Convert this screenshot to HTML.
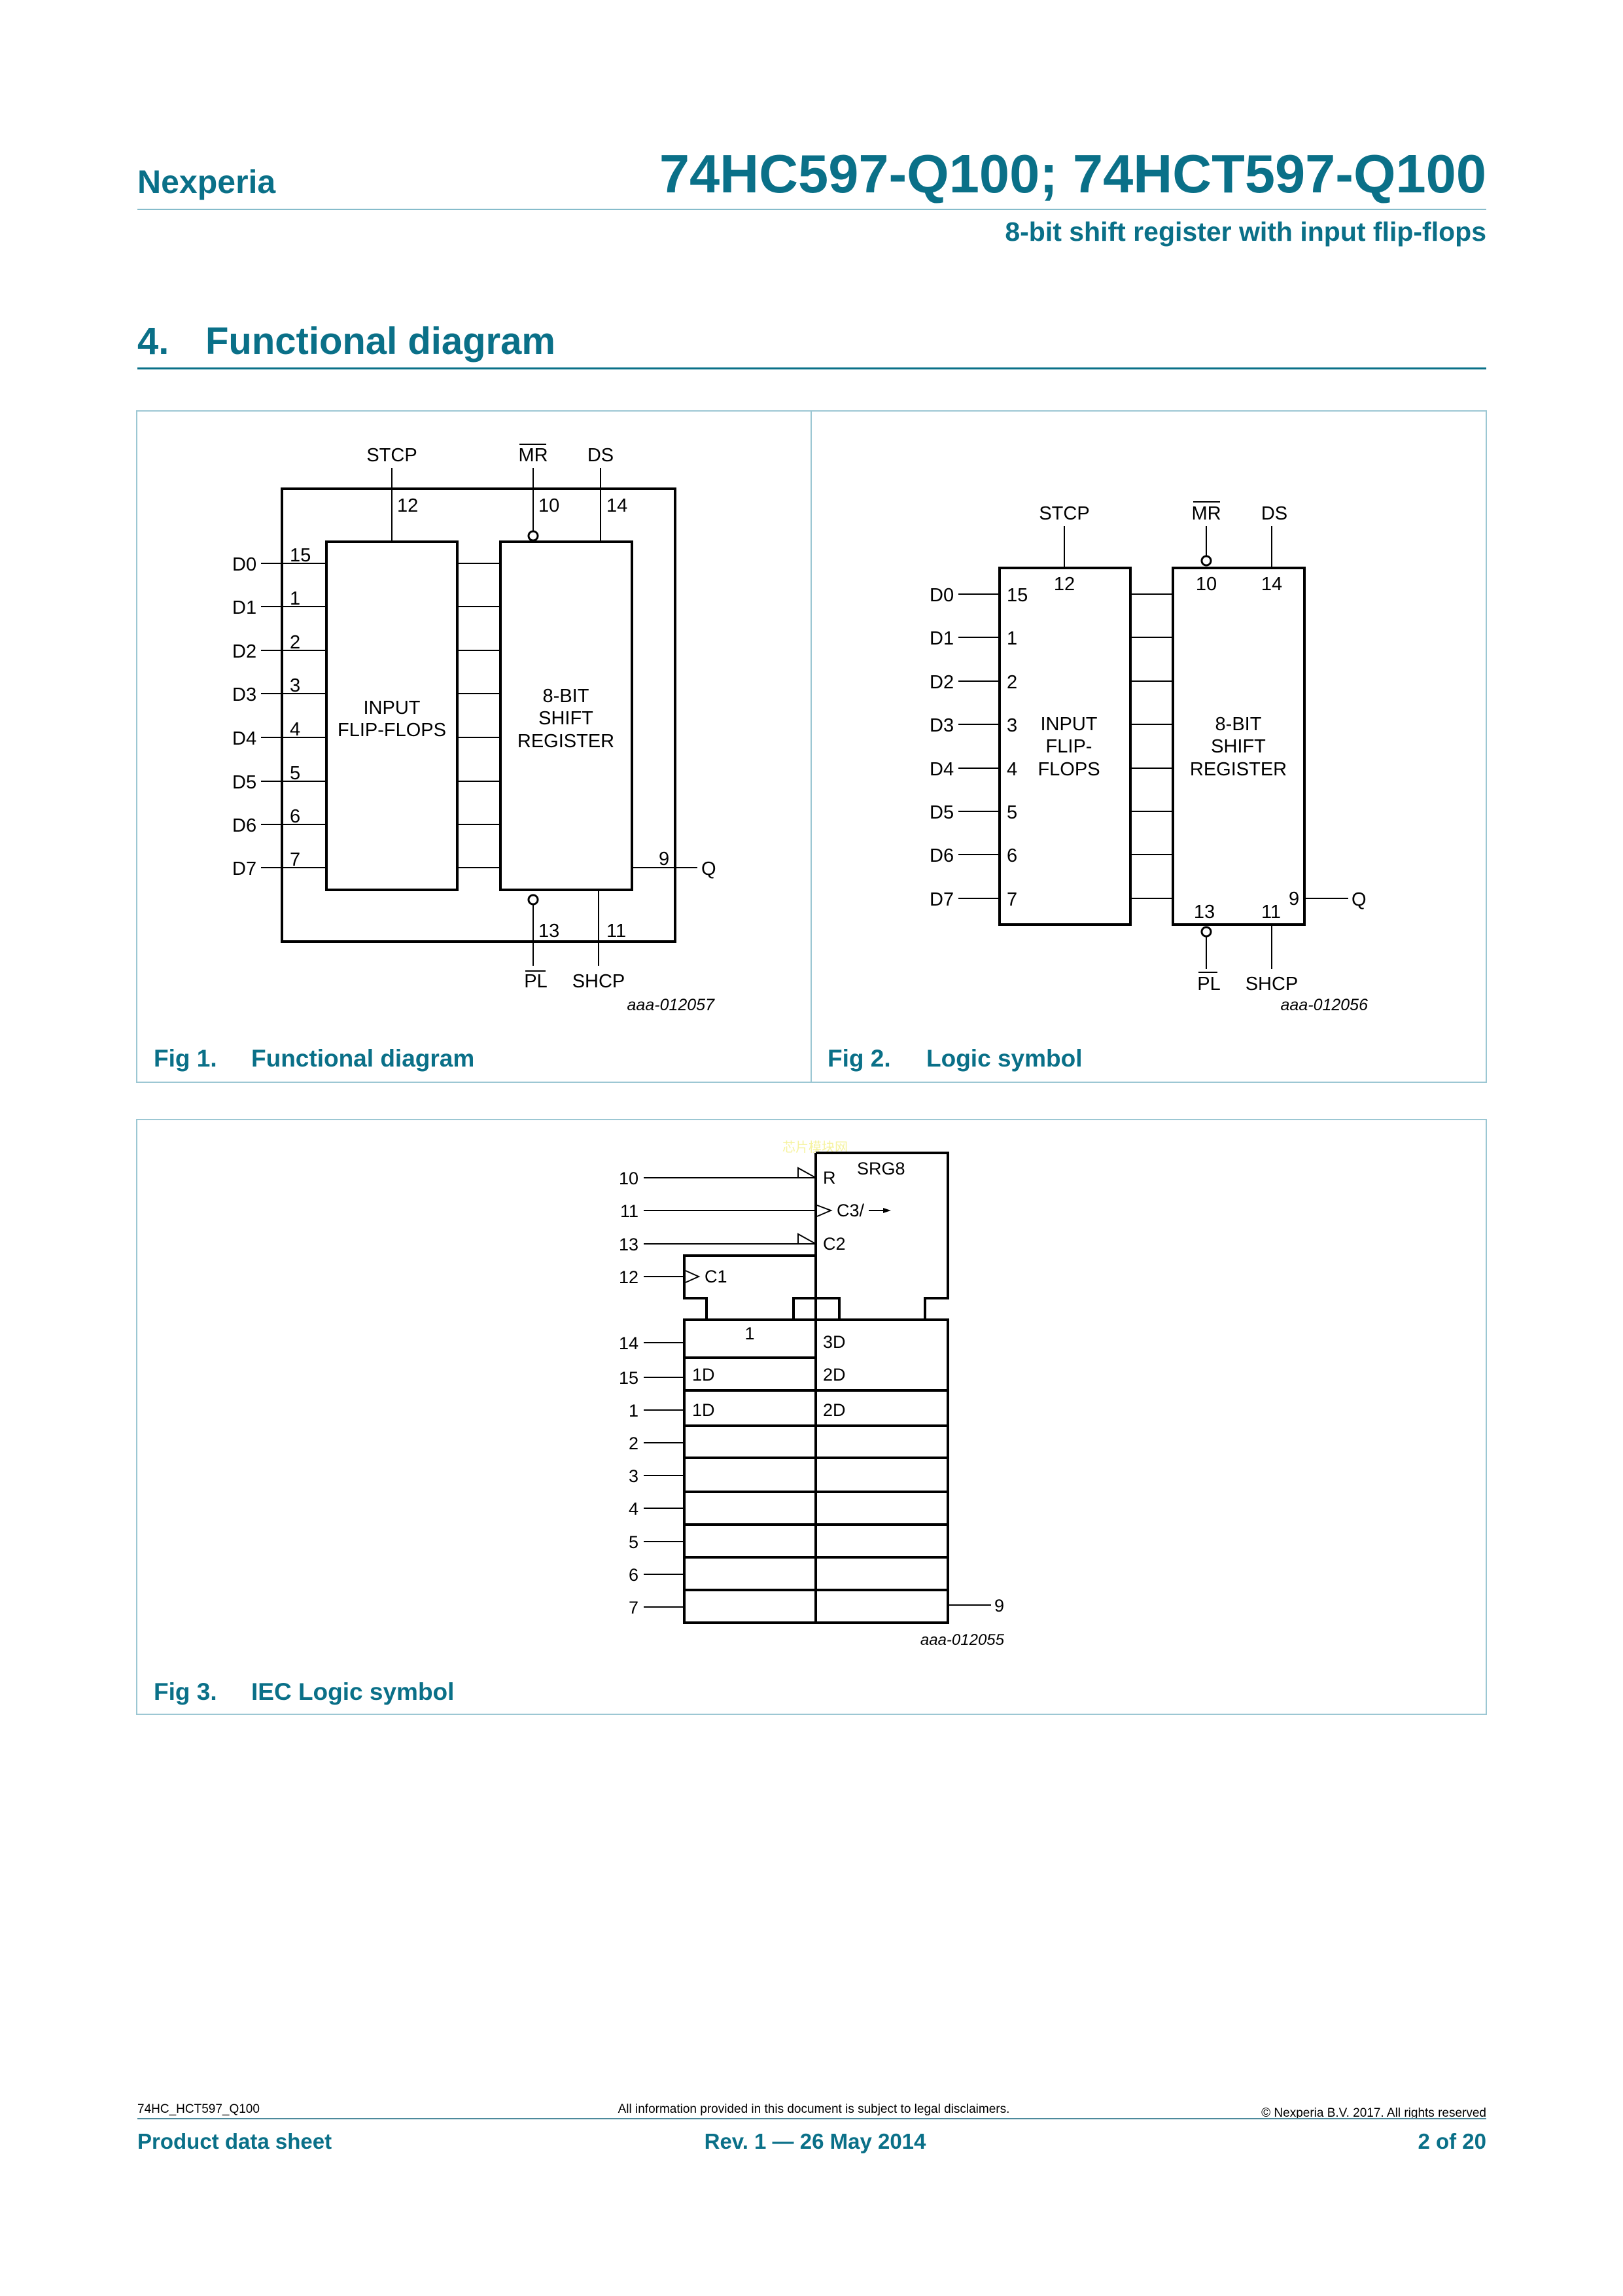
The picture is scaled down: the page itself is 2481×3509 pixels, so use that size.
<!DOCTYPE html>
<html><head><meta charset="utf-8"><style>
html,body{margin:0;padding:0;background:#fff}
svg{display:block}
text{font-family:"Liberation Sans",Arial,sans-serif}
</style></head><body>
<svg width="2481" height="3509" viewBox="0 0 2481 3509" xmlns="http://www.w3.org/2000/svg">
<rect width="2481" height="3509" fill="#fff"/>
<!-- Header -->
<g fill="#0a7088" font-weight="bold">
<text x="210" y="295" font-size="50">Nexperia</text>
<text x="2272" y="294" font-size="83" text-anchor="end">74HC597-Q100; 74HCT597-Q100</text>
<text x="2272" y="368" font-size="41" text-anchor="end">8-bit shift register with input flip-flops</text>
<text x="210" y="541" font-size="58">4.</text>
<text x="314" y="541" font-size="58">Functional diagram</text>
</g>
<line x1="210" y1="320" x2="2272" y2="320" stroke="#86bccb" stroke-width="2"/>
<line x1="210" y1="563" x2="2272" y2="563" stroke="#0a7088" stroke-width="3"/>

<!-- Panels -->
<g fill="none" stroke="#9cc7d3" stroke-width="2">
<rect x="209" y="628" width="2063" height="1026"/>
<line x1="1240" y1="628" x2="1240" y2="1654"/>
<rect x="209" y="1711" width="2063" height="909"/>
</g>
<g fill="#0a7088" font-weight="bold" font-size="37">
<text x="235" y="1630">Fig 1.</text><text x="384" y="1630">Functional diagram</text>
<text x="1265" y="1630">Fig 2.</text><text x="1416" y="1630">Logic symbol</text>
<text x="235" y="2598">Fig 3.</text><text x="384" y="2598">IEC Logic symbol</text>
</g>

<!-- FIG 1 -->
<g stroke="#000" fill="none">
<rect x="431" y="747" width="601" height="692" stroke-width="4"/>
<rect x="499" y="828" width="200" height="532" stroke-width="4"/>
<rect x="765" y="828" width="201" height="532" stroke-width="4"/>
<g stroke-width="2">
<path d="M399 861H499M399 927H499M399 994H499M399 1060H499M399 1127H499M399 1194H499M399 1260H499M399 1326H499"/>
<path d="M699 861H765M699 927H765M699 994H765M699 1060H765M699 1127H765M699 1194H765M699 1260H765M699 1326H765"/>
<path d="M599 715V828M815 715V812M918 715V828M815 1382V1476M915 1360V1476M966 1326H1066"/>
<path d="M794 679H835M803 1484H834"/>
</g>
<circle cx="815" cy="819" r="7" stroke-width="3" fill="#fff"/>
<circle cx="815" cy="1375" r="7" stroke-width="3" fill="#fff"/>
</g>
<g font-size="29" fill="#000">
<text x="355" y="872">D0</text><text x="355" y="938">D1</text><text x="355" y="1005">D2</text><text x="355" y="1071">D3</text>
<text x="355" y="1138">D4</text><text x="355" y="1205">D5</text><text x="355" y="1271">D6</text><text x="355" y="1337">D7</text>
<text x="443" y="858">15</text><text x="443" y="924">1</text><text x="443" y="991">2</text><text x="443" y="1057">3</text>
<text x="443" y="1124">4</text><text x="443" y="1191">5</text><text x="443" y="1257">6</text><text x="443" y="1323">7</text>
<text x="599" y="1091" text-anchor="middle">INPUT</text>
<text x="599" y="1125" text-anchor="middle">FLIP-FLOPS</text>
<text x="865" y="1073" text-anchor="middle">8-BIT</text>
<text x="865" y="1107" text-anchor="middle">SHIFT</text>
<text x="865" y="1142" text-anchor="middle">REGISTER</text>
<text x="599" y="705" text-anchor="middle">STCP</text>
<text x="815" y="705" text-anchor="middle">MR</text>
<text x="918" y="705" text-anchor="middle">DS</text>
<text x="607" y="782">12</text><text x="823" y="782">10</text><text x="927" y="782">14</text>
<text x="823" y="1432">13</text><text x="927" y="1432">11</text>
<text x="819" y="1509" text-anchor="middle">PL</text>
<text x="915" y="1509" text-anchor="middle">SHCP</text>
<text x="1007" y="1322">9</text><text x="1072" y="1337">Q</text>
<text x="1092" y="1544" text-anchor="end" font-size="25" font-style="italic">aaa-012057</text>
</g>

<!-- FIG 2 -->
<g stroke="#000" fill="none">
<rect x="1528" y="868" width="200" height="545" stroke-width="4"/>
<rect x="1793" y="868" width="201" height="545" stroke-width="4"/>
<g stroke-width="2">
<path d="M1465 908H1528M1465 974H1528M1465 1041H1528M1465 1107H1528M1465 1174H1528M1465 1240H1528M1465 1306H1528M1465 1373H1528"/>
<path d="M1728 908H1793M1728 974H1793M1728 1041H1793M1728 1107H1793M1728 1174H1793M1728 1240H1793M1728 1306H1793M1728 1373H1793"/>
<path d="M1627 804V868M1844 804V850M1944 804V868M1844 1431V1481M1944 1413V1481M1994 1373H2061"/>
<path d="M1824 767H1865M1832 1486H1861"/>
</g>
<circle cx="1844" cy="857" r="7" stroke-width="3" fill="#fff"/>
<circle cx="1844" cy="1424" r="7" stroke-width="3" fill="#fff"/>
</g>
<g font-size="29" fill="#000">
<text x="1421" y="919">D0</text><text x="1421" y="985">D1</text><text x="1421" y="1052">D2</text><text x="1421" y="1118">D3</text>
<text x="1421" y="1185">D4</text><text x="1421" y="1251">D5</text><text x="1421" y="1317">D6</text><text x="1421" y="1384">D7</text>
<text x="1539" y="919">15</text><text x="1539" y="985">1</text><text x="1539" y="1052">2</text><text x="1539" y="1118">3</text>
<text x="1539" y="1185">4</text><text x="1539" y="1251">5</text><text x="1539" y="1317">6</text><text x="1539" y="1384">7</text>
<text x="1634" y="1116" text-anchor="middle">INPUT</text>
<text x="1634" y="1150" text-anchor="middle">FLIP-</text>
<text x="1634" y="1185" text-anchor="middle">FLOPS</text>
<text x="1893" y="1116" text-anchor="middle">8-BIT</text>
<text x="1893" y="1150" text-anchor="middle">SHIFT</text>
<text x="1893" y="1185" text-anchor="middle">REGISTER</text>
<text x="1627" y="794" text-anchor="middle">STCP</text>
<text x="1844" y="794" text-anchor="middle">MR</text>
<text x="1948" y="794" text-anchor="middle">DS</text>
<text x="1627" y="902" text-anchor="middle">12</text>
<text x="1844" y="902" text-anchor="middle">10</text>
<text x="1944" y="902" text-anchor="middle">14</text>
<text x="1841" y="1403" text-anchor="middle">13</text>
<text x="1943" y="1403" text-anchor="middle">11</text>
<text x="1970" y="1383">9</text><text x="2066" y="1384">Q</text>
<text x="1848" y="1513" text-anchor="middle">PL</text>
<text x="1944" y="1513" text-anchor="middle">SHCP</text>
<text x="2091" y="1544" text-anchor="end" font-size="25" font-style="italic">aaa-012056</text>
</g>

<!-- FIG 3 -->
<text x="1196" y="1760" font-size="20" fill="#f6f3a0" font-family="'Noto Sans CJK SC',sans-serif">芯片模块网</text>
<g transform="translate(0,-3)">
<g stroke="#000" fill="none" stroke-width="4">
<path d="M1247 1765H1449V1987H1414V2020"/>
<path d="M1247 1922H1046V1987H1080V2020"/>
<path d="M1213 2020V1987H1283V2020"/>
<path d="M1247 1765V2483"/>
<rect x="1046" y="2020" width="403" height="463"/>
<path d="M1046 2078H1247M1046 2128H1449M1046 2182H1449M1046 2231H1449M1046 2283H1449M1046 2333H1449M1046 2383H1449M1046 2433H1449"/>
</g>
<g stroke="#000" fill="none" stroke-width="2">
<path d="M984 1803H1247M984 1853H1247M984 1904H1247M984 1954H1046"/>
<path d="M984 2055H1046M984 2108H1046M984 2158H1046M984 2208H1046M984 2258H1046M984 2308H1046M984 2359H1046M984 2409H1046M984 2459H1046"/>
<path d="M1449 2456H1515"/>
<path d="M1220 1803V1788L1247 1803M1220 1904V1889L1247 1904"/>
<path d="M1249 1845L1270 1853L1249 1862M1048 1945L1068 1954L1048 1963"/>
<path d="M1328 1853H1352"/>
</g>
<path d="M1350 1849L1362 1853L1350 1857Z" fill="#000"/>
<g font-size="27" fill="#000">
<g text-anchor="end">
<text x="976" y="1813">10</text><text x="976" y="1863">11</text><text x="976" y="1914">13</text><text x="976" y="1964">12</text>
<text x="976" y="2065">14</text><text x="976" y="2118">15</text><text x="976" y="2168">1</text><text x="976" y="2218">2</text>
<text x="976" y="2268">3</text><text x="976" y="2318">4</text><text x="976" y="2369">5</text><text x="976" y="2419">6</text><text x="976" y="2469">7</text>
</g>
<text x="1258" y="1812">R</text>
<text x="1310" y="1798">SRG8</text>
<text x="1279" y="1862">C3/</text>
<text x="1258" y="1913">C2</text>
<text x="1077" y="1963">C1</text>
<text x="1146" y="2050" text-anchor="middle">1</text>
<text x="1258" y="2063">3D</text>
<text x="1058" y="2113">1D</text><text x="1258" y="2113">2D</text>
<text x="1058" y="2167">1D</text><text x="1258" y="2167">2D</text>
<text x="1520" y="2466">9</text>
<text x="1535" y="2517" text-anchor="end" font-size="24" font-style="italic">aaa-012055</text>
</g>
</g>

<!-- Footer -->
<g font-size="19" fill="#000">
<text x="210" y="3229">74HC_HCT597_Q100</text>
<text x="1244" y="3229" text-anchor="middle">All information provided in this document is subject to legal disclaimers.</text>
<text x="2272" y="3235" text-anchor="end">© Nexperia B.V. 2017. All rights reserved</text>
</g>
<line x1="210" y1="3238" x2="2272" y2="3238" stroke="#4d8a9c" stroke-width="2"/>
<g font-size="33" fill="#0a7088" font-weight="bold">
<text x="210" y="3284">Product data sheet</text>
<text x="1246" y="3284" text-anchor="middle">Rev. 1 — 26 May 2014</text>
<text x="2272" y="3284" text-anchor="end">2 of 20</text>
</g>
</svg>
</body></html>
